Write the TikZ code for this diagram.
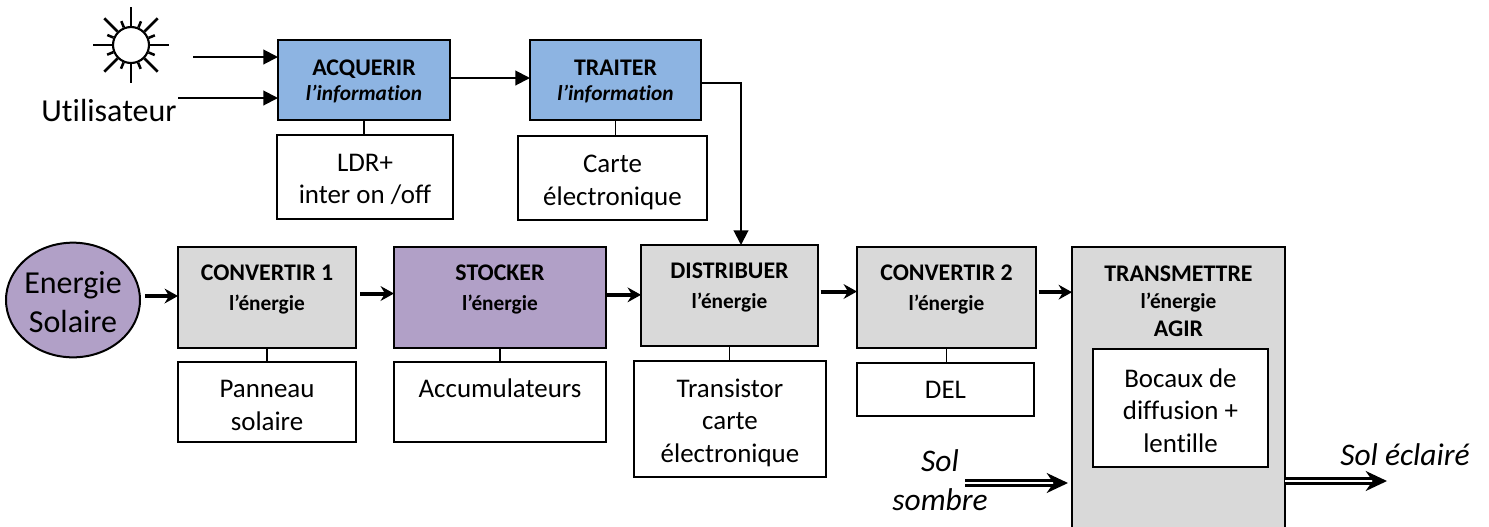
\documentclass[tikz,border=0pt]{standalone}
\usepackage{fontspec}
\usepackage{xcolor}
\usepackage{tikz}
\usetikzlibrary{arrows.meta,shapes.geometric}
\setmainfont{Carlito}[Ligatures=NoCommon]
\definecolor{infoblue}{RGB}{141,180,226}
\definecolor{stockpurple}{RGB}{177,160,199}
\definecolor{energygray}{RGB}{217,217,217}
\newcommand{\titlefont}{\fontsize{17.9pt}{20.5pt}\selectfont}
\newcommand{\subfont}{\fontsize{16pt}{20pt}\selectfont}
\newcommand{\partfont}{\fontsize{20.2pt}{24.3pt}\selectfont}
\newcommand{\bigfont}{\fontsize{24pt}{29pt}\selectfont}
\newcommand{\freefont}{\fontsize{23.6pt}{29pt}\selectfont\itshape}
\newcommand{\toppad}[1]{\rule{0pt}{#1}}
\tikzset{
  boxsize/.style 2 args={minimum width=#1*0.75pt, minimum height=#2*0.75pt},
  block/.style={draw, line width=1.5pt, outer sep=0pt, inner sep=0pt, anchor=north west, align=center, font=\titlefont},
  infobox/.style={block, fill=infoblue, text depth=0pt},
  energybox/.style={block, fill=energygray, text depth=15pt},
  storebox/.style={block, fill=stockpurple, text depth=15pt},
  partbox/.style={block, line width=1.2pt, fill=white, font=\partfont},
  flowarrow/.style={-{Triangle[length=11pt,width=11pt]}, line width=1.5pt},
  powerarrow/.style={-{Stealth[length=10pt,width=11pt]}, line width=3pt},
  matterarrow/.style={double, double distance=1.8pt, line width=1.8pt, -{Stealth[length=16pt,width=15pt]}},
  tie/.style={line width=1pt},
  ray/.style={line width=1.9pt}
}
\begin{document}
\begin{tikzpicture}[x=0.75pt, y=-0.75pt]
\useasboundingbox (0,0) rectangle (1489,526);
% sun
\node[draw, circle, line width=1.6pt, minimum size=27pt, inner sep=0pt] (sun) at (131,45) {};
\foreach \a in {0,45,...,315} \draw[ray] (sun.\a) -- ++(\a:14pt);
\foreach \a in {22.5,67.5,...,337.5} \draw[ray] (sun.\a) -- ++(\a:5pt);
\node[font=\bigfont] (user) at (109,111) {Utilisateur};
% information chain
\node[infobox, boxsize={172}{80}] (acquerir) at (278,40) {\textbf{ACQUERIR}\\[-2pt]\subfont\textbf{\textit{l’information}}};
\node[infobox, boxsize={171}{80}] (traiter) at (530,40) {\textbf{TRAITER}\\[-2pt]\subfont\textbf{\textit{l’information}}};
\node[partbox, text depth=0pt, boxsize={176}{84}] (ldr) at (277,135) {\toppad{16pt}LDR+\\inter on /off};
\node[partbox, text depth=0pt, boxsize={189}{84}] (carte) at (518,136) {\toppad{16.5pt}Carte\\électronique};
% energy chain
\node[draw, ellipse, line width=1.5pt, fill=stockpurple, minimum width=100.5pt, minimum height=86pt, inner sep=-5pt, align=center, font=\bigfont] (solaire) at (73,300) {\toppad{19.5pt}Energie\\Solaire};
\node[energybox, boxsize={178}{101}] (conv1) at (178,247) {\textbf{CONVERTIR 1}\\[1.5pt]\subfont\textbf{l’énergie}};
\node[storebox, boxsize={212}{101}] (stocker) at (394,247) {\textbf{STOCKER}\\[1.5pt]\subfont\textbf{l’énergie}};
\node[energybox, boxsize={177}{101}] (distrib) at (641,245) {\textbf{DISTRIBUER}\\[1.5pt]\subfont\textbf{l’énergie}};
\node[energybox, boxsize={179}{101}] (conv2) at (857,247) {\textbf{CONVERTIR 2}\\[1.5pt]\subfont\textbf{l’énergie}};
\node[energybox, text depth=133pt, boxsize={213}{285}] (transm) at (1072,247) {\textbf{TRANSMETTRE}\\\subfont\textbf{l’énergie}\\\textbf{AGIR}};
\node[partbox, boxsize={178}{80}] (panneau) at (178,362) {\toppad{18pt}Panneau\\solaire};
\node[partbox, boxsize={212}{80}, text depth=21pt] (accu) at (394,362) {Accumulateurs};
\node[partbox, text depth=0pt, boxsize={192}{116}] (transistor) at (634,361) {\toppad{16pt}Transistor\\carte\\électronique};
\node[partbox, boxsize={177}{53}] (del) at (857,363) {DEL};
\node[partbox, boxsize={175}{118}] (bocaux) at (1093,349) {\toppad{18pt}Bocaux de\\diffusion +\\lentille};
% free labels
\node[font=\freefont, align=center] (solsombre) at (940,480) {Sol\\sombre};
\node[font=\freefont] (soleclaire) at (1405,455) {Sol éclairé};
% free ends
\coordinate (sunout) at (193,57);
\coordinate (userout) at (178,98);
\coordinate (sombreout) at (965,483);
\coordinate (eclaireend) at (1387,481);
\coordinate (distribin) at (741,245);
% arrows
\draw[flowarrow] (sunout) -- (sunout -| acquerir.west);
\draw[flowarrow] (userout) -- (userout -| acquerir.west);
\draw[flowarrow] ([yshift=1.5pt]acquerir.east) -- ([yshift=1.5pt]traiter.west);
\draw[flowarrow] ([yshift=-2pt]traiter.east) -| (distribin);
\draw[powerarrow, shorten <=3pt] ([yshift=3pt]solaire.east) -- ([yshift=3pt]solaire.east -| conv1.west);
\draw[powerarrow, shorten <=3pt] ([yshift=3pt]conv1.east) -- ([yshift=3pt]stocker.west);
\draw[powerarrow] ([yshift=2pt]stocker.east) -- ([yshift=2pt]stocker.east -| distrib.west);
\draw[powerarrow, shorten <=2pt] ([yshift=3pt]distrib.east) -- ([yshift=3pt]distrib.east -| conv2.west);
\draw[powerarrow, shorten <=2pt] ([yshift=4pt]conv2.east) -- ([yshift=4pt]conv2.east -| transm.west);
\draw[matterarrow, shorten >=3pt] (sombreout) -- (sombreout -| transm.west);
\draw[matterarrow] (eclaireend -| transm.east) -- (eclaireend);
% ties
\draw[tie] (acquerir.south) -- (acquerir.south |- ldr.north);
\draw[tie] (traiter.south) -- (traiter.south |- carte.north);
\draw[tie] (conv1.south) -- (conv1.south |- panneau.north);
\draw[tie] (stocker.south) -- (stocker.south |- accu.north);
\draw[tie] (distrib.south) -- (distrib.south |- transistor.north);
\draw[tie] (conv2.south) -- (conv2.south |- del.north);
\end{tikzpicture}
\end{document}
